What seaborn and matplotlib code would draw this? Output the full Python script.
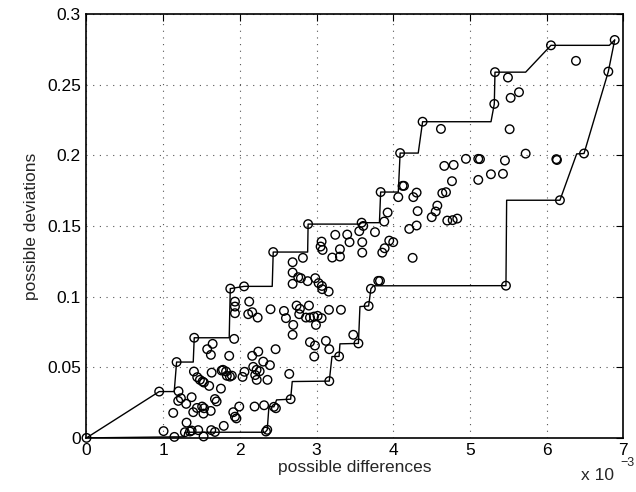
import matplotlib
matplotlib.use("Agg")
import matplotlib.pyplot as plt
import seaborn as sns
import pandas as pd
import numpy as np

# x values are in units of 1e-3 (axis shows "x 10^-3")
pts_x = [
    0.000, 0.948, 1.175, 1.405, 1.875, 2.055, 2.435, 2.890, 3.588, 3.836, 4.090, 4.383, 5.318, 5.327, 6.057, 6.888,
    2.340, 2.357, 2.444, 2.662, 3.166, 3.294, 3.546, 3.679, 3.709, 5.470, 6.174, 6.488, 6.805,
    6.383, 5.496, 5.531, 5.640, 5.518, 5.727, 6.127, 6.135, 5.457, 5.131, 5.274, 5.431, 4.622, 4.948, 5.109,
    4.666, 4.788, 5.109, 4.766, 4.640, 4.688, 4.575, 4.554, 4.502, 4.705, 4.775, 4.835, 4.305, 4.262, 4.318,
    4.305, 4.209, 4.122, 4.140, 4.066, 3.927, 3.883, 3.609, 3.557, 3.762, 3.596, 3.430, 3.948, 4.000, 3.888,
    3.857, 3.596, 4.253, 3.805, 3.827,
    3.244, 3.400, 3.066, 3.053, 3.079, 3.305, 3.205, 3.305, 2.822, 2.688, 2.688, 2.761, 2.796, 2.688, 2.884,
    2.983, 3.027, 3.070, 3.074, 3.158, 2.400, 2.575, 2.601, 2.740, 2.783, 2.901, 2.774, 2.862, 2.914, 2.966,
    3.014, 3.066, 3.162, 3.318, 2.696, 2.992,
    1.936, 1.936, 1.936, 2.122, 2.109, 2.161, 2.232, 2.688, 1.926, 2.914, 2.979, 3.122, 3.166, 2.970, 2.466,
    3.479, 1.861, 2.161, 2.240, 2.305, 2.392, 2.174, 2.218, 2.258, 2.060, 2.035, 2.200, 2.360, 2.220, 2.644,
    1.780, 1.820, 1.830, 1.870, 1.895,
    1.645, 1.574, 1.622, 1.401, 1.444, 1.479, 1.514, 1.531, 1.600, 1.632, 1.753, 1.762,
    1.200, 1.196, 1.231, 1.300, 1.371, 1.131, 1.392, 1.440, 1.508, 1.533, 1.525, 1.620, 1.675, 1.697,
    1.305, 1.790, 1.914, 1.936, 1.955, 1.992, 2.192, 2.316, 2.470,
    1.005, 1.146, 1.283, 1.349, 1.371, 1.457, 1.527, 1.627, 1.675,
]
pts_y = [
    0.0000, 0.0328, 0.0537, 0.0709, 0.1057, 0.1073, 0.1316, 0.1514, 0.1524, 0.1741, 0.2017, 0.2239, 0.2365, 0.2590, 0.2780, 0.2818,
    0.0045, 0.0057, 0.0220, 0.0274, 0.0402, 0.0577, 0.0669, 0.0934, 0.1056, 0.1078, 0.1683, 0.2014, 0.2594,
    0.2670, 0.2552, 0.2408, 0.2448, 0.2186, 0.2013, 0.1974, 0.1968, 0.1964, 0.1974, 0.1867, 0.1870, 0.2188, 0.1976, 0.1976,
    0.1926, 0.1933, 0.1827, 0.1818, 0.1733, 0.1740, 0.1645, 0.1603, 0.1563, 0.1539, 0.1542, 0.1553, 0.1737, 0.1705, 0.1606,
    0.1504, 0.1480, 0.1785, 0.1785, 0.1705, 0.1596, 0.1532, 0.1501, 0.1464, 0.1457, 0.1386, 0.1386, 0.1397, 0.1386, 0.1343,
    0.1312, 0.1312, 0.1275, 0.1112, 0.1112,
    0.1438, 0.1440, 0.1390, 0.1355, 0.1331, 0.1336, 0.1277, 0.1284, 0.1275, 0.1244, 0.1171, 0.1138, 0.1131, 0.1091, 0.1110,
    0.1131, 0.1096, 0.1076, 0.1053, 0.1036, 0.0911, 0.0899, 0.0848, 0.0937, 0.0914, 0.0937, 0.0876, 0.0852, 0.0852, 0.0859,
    0.0864, 0.0848, 0.0907, 0.0907, 0.0800, 0.0800,
    0.0965, 0.0930, 0.0883, 0.0965, 0.0876, 0.0890, 0.0852, 0.0730, 0.0701, 0.0678, 0.0654, 0.0687, 0.0628, 0.0576, 0.0628,
    0.0730, 0.0581, 0.0581, 0.0611, 0.0540, 0.0515, 0.0503, 0.0482, 0.0472, 0.0468, 0.0432, 0.0445, 0.0411, 0.0411, 0.0453,
    0.0482, 0.0470, 0.0440, 0.0434, 0.0441,
    0.0666, 0.0628, 0.0588, 0.0470, 0.0430, 0.0411, 0.0399, 0.0392, 0.0368, 0.0462, 0.0349, 0.0477,
    0.0330, 0.0262, 0.0281, 0.0241, 0.0288, 0.0177, 0.0182, 0.0212, 0.0222, 0.0210, 0.0172, 0.0191, 0.0275, 0.0258,
    0.0108, 0.0085, 0.0182, 0.0150, 0.0138, 0.0222, 0.0222, 0.0231, 0.0210,
    0.0048, 0.0007, 0.0040, 0.0045, 0.0052, 0.0055, 0.0010, 0.0055, 0.0042,
]

upper_x = [0, 0.948, 1.144, 1.175, 1.392, 1.405, 1.861, 1.875, 2.055, 2.422, 2.435, 2.884, 2.890,
           3.566, 3.588, 3.820, 3.836, 4.066, 4.090, 4.326, 4.383, 5.275, 5.318, 5.327, 5.727,
           6.057, 6.818, 6.888]
upper_y = [0, 0.0328, 0.0328, 0.0537, 0.0537, 0.0709, 0.0709, 0.1057, 0.1073, 0.1073, 0.1316, 0.1316, 0.1514,
           0.1514, 0.1524, 0.1524, 0.1741, 0.1741, 0.2017, 0.2017, 0.2239, 0.2239, 0.2365, 0.2590, 0.2590,
           0.2780, 0.2780, 0.2818]

lower_x = [0, 1.146, 1.270, 1.283, 2.330, 2.357, 2.379, 2.444, 2.479, 2.662, 2.683, 3.166, 3.201,
           3.294, 3.305, 3.546, 3.566, 3.679, 3.709, 3.740, 5.470, 5.479, 6.174, 6.392, 6.488, 6.805, 6.888]
lower_y = [0, 0.0007, 0.0007, 0.0040, 0.0040, 0.0057, 0.0222, 0.0220, 0.0269, 0.0274, 0.0399, 0.0402, 0.0576,
           0.0577, 0.0666, 0.0669, 0.0930, 0.0934, 0.1056, 0.1077, 0.1078, 0.1683, 0.1683, 0.2011, 0.2014, 0.2594, 0.2818]

x_ticks = [0, 1, 2, 3, 4, 5, 6, 7]
y_ticks = [0, 0.05, 0.1, 0.15, 0.2, 0.25, 0.3]
y_tick_labels = ["0", "0.05", "0.1", "0.15", "0.2", "0.25", "0.3"]

sns.set_style("white")
plt.rcParams['font.family'] = ['Liberation Sans', 'DejaVu Sans']

fig = plt.figure(figsize=(6.36, 4.92), dpi=100)
ax = fig.add_axes([0.136, 0.110, 0.844, 0.861])

df_pts = pd.DataFrame({"x": pts_x, "y": pts_y})
df_up = pd.DataFrame({"x": upper_x, "y": upper_y})
df_lo = pd.DataFrame({"x": lower_x, "y": lower_y})

sns.lineplot(data=df_up, x="x", y="y", sort=False, estimator=None, color="black", lw=1.0, ax=ax, zorder=3)
sns.lineplot(data=df_lo, x="x", y="y", sort=False, estimator=None, color="black", lw=1.0, ax=ax, zorder=3)
sns.scatterplot(data=df_pts, x="x", y="y", marker="o", s=38, facecolor="none", edgecolor="black",
                linewidth=1.0, ax=ax, zorder=4, clip_on=False)

ax.set_xlim(0, 7)
ax.set_ylim(0, 0.3)
ax.set_xticks(x_ticks)
ax.set_xticklabels([str(t) for t in x_ticks])
ax.set_yticks(y_ticks)
ax.set_yticklabels(y_tick_labels)
ax.tick_params(direction="in", length=5, width=0.8, top=True, right=True, labelsize=12.5, colors="black", pad=4)
ax.grid(True, linestyle=(0, (1, 5)), color="#555555", linewidth=0.8)
for s in ax.spines.values():
    s.set_visible(True)
    s.set_color("black")
    s.set_linewidth(1.2)

ax.set_xlabel("possible differences", fontsize=12.5, labelpad=1)
ax.set_ylabel("possible deviations", fontsize=12.5, labelpad=6)

fig.text(0.914, 0.018, "x 10", fontsize=12.5, ha="left", va="bottom")
fig.text(0.975, 0.046, "\u22123", fontsize=9, ha="left", va="bottom")

fig.savefig("out.png", dpi=100)
